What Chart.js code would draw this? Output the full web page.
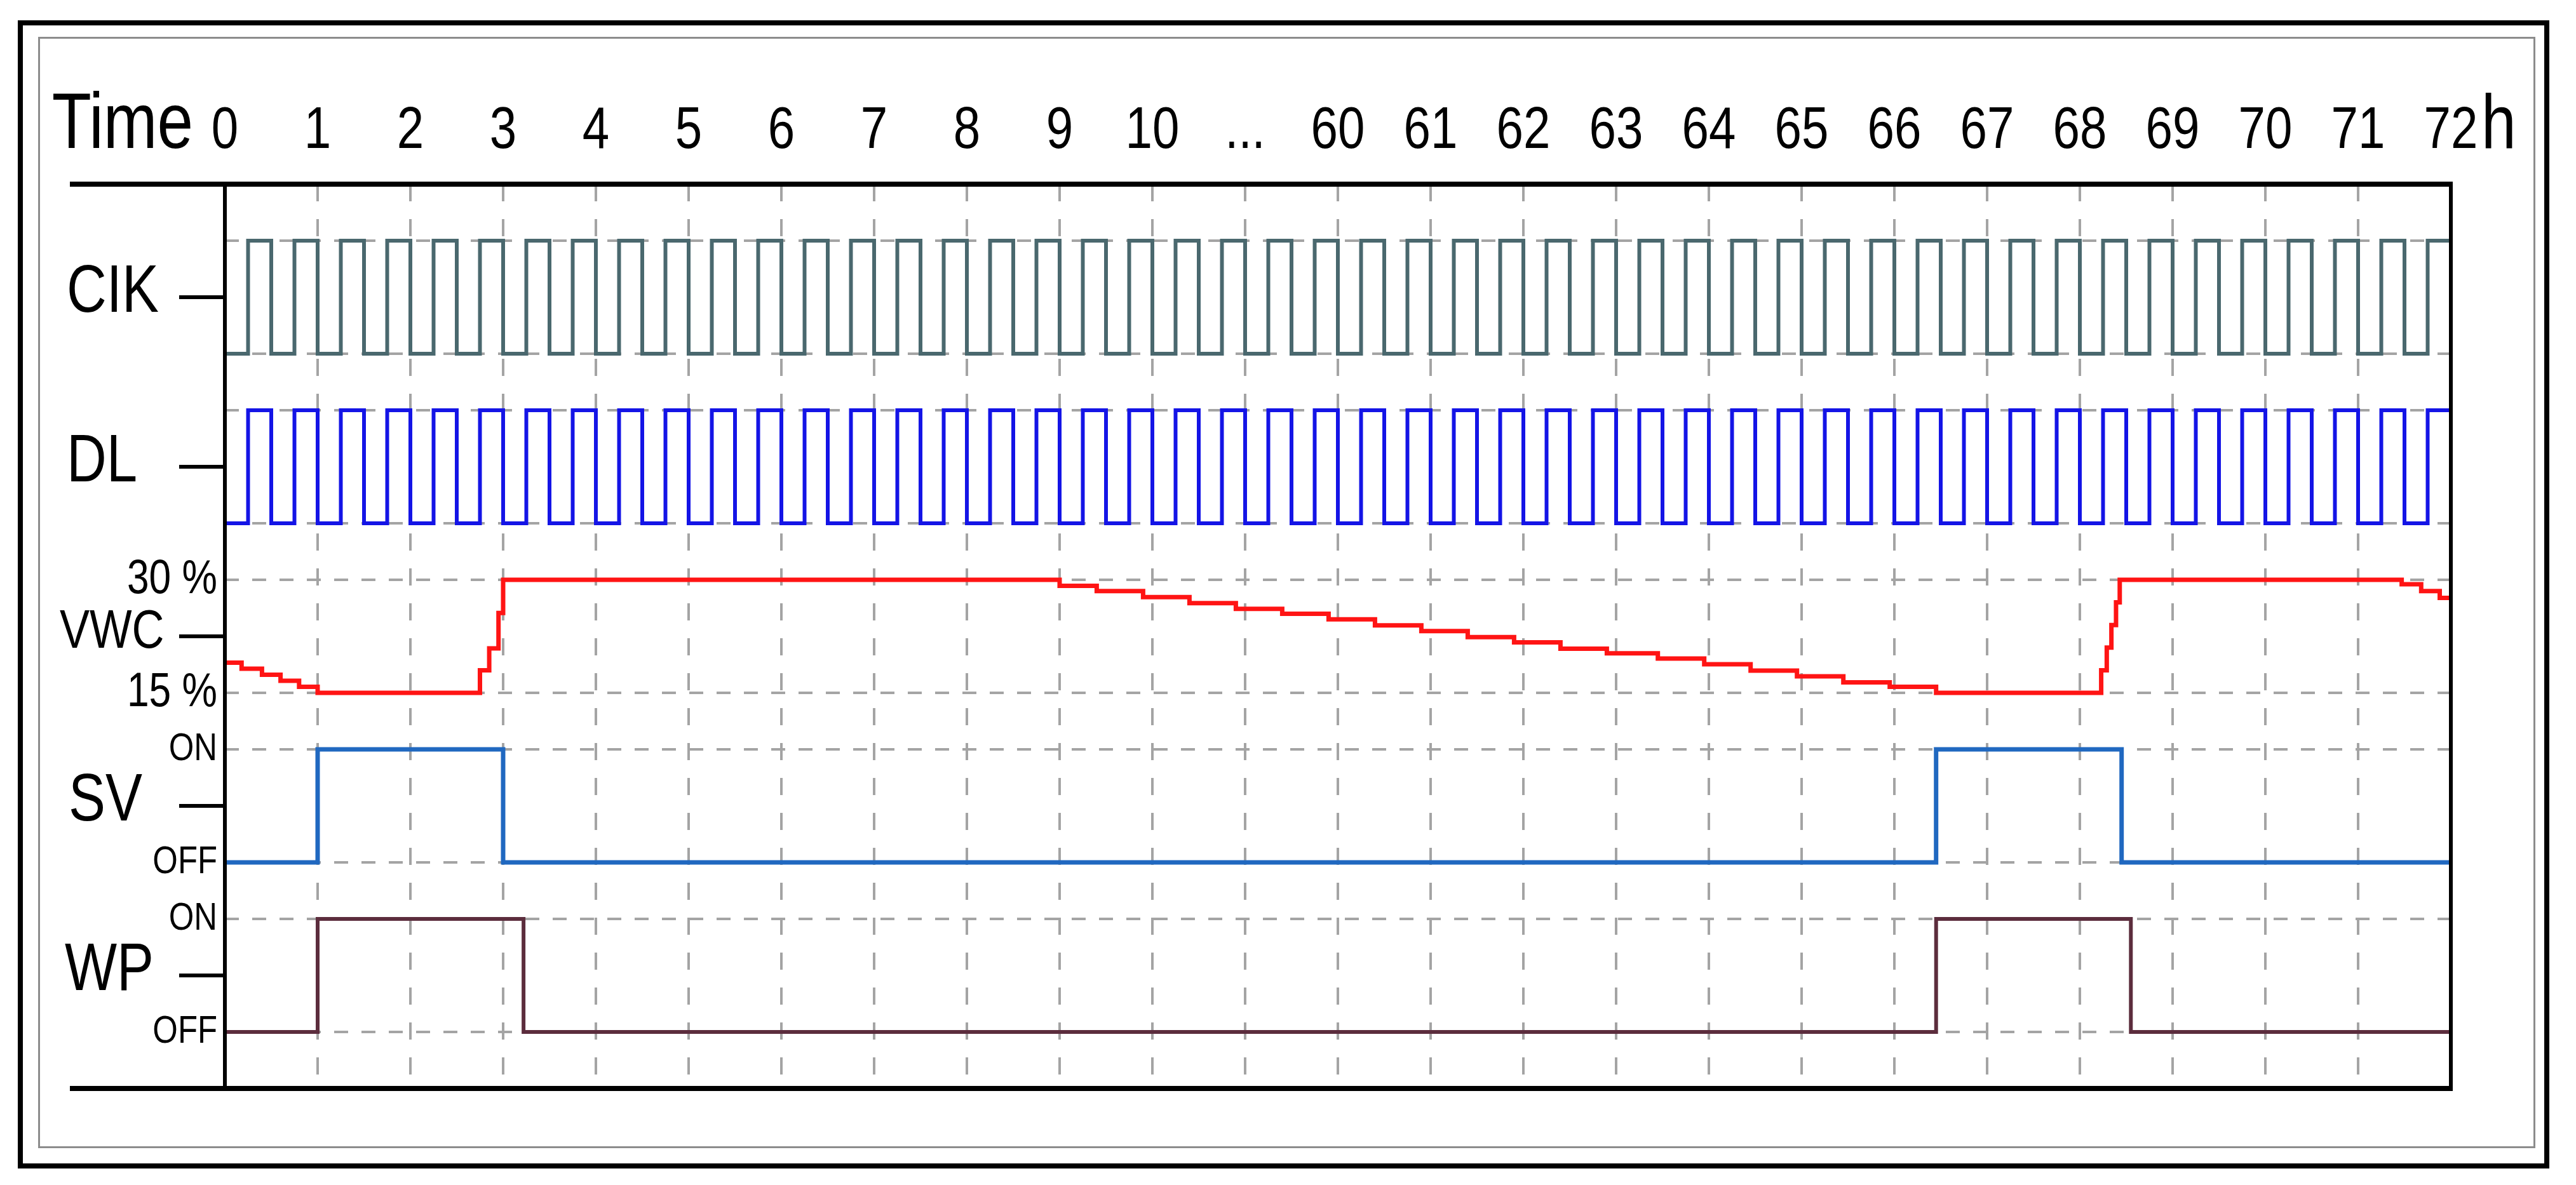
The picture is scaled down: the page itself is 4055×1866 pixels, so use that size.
<!DOCTYPE html>
<html>
<head>
<meta charset="utf-8">
<script src="https://cdn.jsdelivr.net/npm/chart.js@4.4.1/dist/chart.umd.min.js"></script>
<style>
  html, body { margin: 0; padding: 0; background: #fff; }
  body { width: 4055px; height: 1866px; overflow: hidden; position: relative; }
  .frame-outer { position: absolute; left: 28px; top: 32px; width: 3985px; height: 1808px; box-sizing: border-box; border: 8px solid #000; }
  .frame-inner { position: absolute; left: 60px; top: 58px; width: 3931px; height: 1750px; box-sizing: border-box; border: 3px solid #8c8c8c; }
  #timing { position: absolute; left: 0; top: 0; }
</style>
</head>
<body>
<div class="frame-outer"></div>
<div class="frame-inner"></div>
<canvas id="timing" width="4055" height="1866"></canvas>
<script>
// time axis: 25 slots, the axis jumps from 10 h to 60 h at "..."
const slotLabels = ['0', '1', '2', '3', '4', '5', '6', '7', '8', '9', '10', '...',
  '60', '61', '62', '63', '64', '65', '66', '67', '68', '69', '70', '71', '72']

// clock and data-logger levels, one value per quarter slot
const quarterStep = 0.25
const clkLevels = [
  0, 1, 0, 1, 0, 1, 0, 1, 0, 1, 0, 1, 0, 1, 0, 1,
  0, 1, 0, 1, 0, 1, 0, 1, 0, 1, 0, 1, 0, 1, 0, 1,
  0, 1, 0, 1, 0, 1, 0, 1, 0, 1, 0, 1, 0, 1, 0, 1,
  0, 1, 0, 1, 0, 1, 0, 1, 0, 1, 0, 1, 0, 1, 0, 1,
  0, 1, 0, 1, 0, 1, 0, 1, 0, 1, 0, 1, 0, 1, 0, 1,
  0, 1, 0, 1, 0, 1, 0, 1, 0, 1, 0, 1, 0, 1, 0, 1
]
const dlLevels = [
  0, 1, 0, 1, 0, 1, 0, 1, 0, 1, 0, 1, 0, 1, 0, 1,
  0, 1, 0, 1, 0, 1, 0, 1, 0, 1, 0, 1, 0, 1, 0, 1,
  0, 1, 0, 1, 0, 1, 0, 1, 0, 1, 0, 1, 0, 1, 0, 1,
  0, 1, 0, 1, 0, 1, 0, 1, 0, 1, 0, 1, 0, 1, 0, 1,
  0, 1, 0, 1, 0, 1, 0, 1, 0, 1, 0, 1, 0, 1, 0, 1,
  0, 1, 0, 1, 0, 1, 0, 1, 0, 1, 0, 1, 0, 1, 0, 1
]

// volumetric water content (%), value holds from each time until the next
const vwcTimes = [
  0, 0.18, 0.40, 0.60, 0.80, 1.00, 2.75, 2.85, 2.95, 3.00,
  9.00, 9.40, 9.90, 10.40, 10.90, 11.40, 11.90, 12.40, 12.90, 13.40,
  13.90, 14.40, 14.90, 15.45, 15.95, 16.45, 16.95, 17.45, 17.95, 18.45,
  20.23, 20.29, 20.34, 20.39, 20.43, 23.47, 23.68, 23.88, 24.00
]
const vwcPercent = [
  19.0, 18.2, 17.4, 16.6, 15.8, 15.0, 18.0, 20.9, 25.6, 30.0,
  29.2, 28.5, 27.7, 26.9, 26.15, 25.5, 24.75, 23.95, 23.2, 22.4,
  21.7, 20.85, 20.25, 19.55, 18.8, 17.95, 17.2, 16.4, 15.8, 15.0,
  18.0, 21.0, 24.0, 27.0, 30.0, 29.4, 28.5, 27.6, 27.6
]

// solenoid valve and water pump (0 = OFF, 1 = ON)
const svTimes = [0, 1.00, 3.00, 18.45, 20.45, 24]
const svStates = [0, 1, 0, 1, 0, 0]
const wpTimes = [0, 1.00, 3.22, 18.45, 20.55, 24]
const wpStates = [0, 1, 0, 1, 0, 0]

const rowNames = ['CIK', 'DL', 'VWC', 'SV', 'WP']
const switchTicks = [0, 1]
const switchNames = ['OFF', 'ON']
const vwcTicks = [15, 30]

// Arial Narrow look: Liberation Sans squeezed horizontally
const fontFamily = "'Liberation Sans', Arial, sans-serif"
const narrow = 0.82
const gridColor = '#a4a4a4'

function levelPoints(levels) {
  const pts = levels.map((v, i) => ({x: i * quarterStep, y: v}))
  pts.push({x: slotLabels.length - 1, y: levels[levels.length - 1]})
  return pts
}

function timePoints(times, values) {
  return times.map((t, i) => ({x: t, y: values[i]}))
}

function signal(label, data, axis, color, width) {
  return {
    label: label,
    data: data,
    yAxisID: axis,
    borderColor: color,
    borderWidth: width,
    stepped: true,
    pointRadius: 0,
    fill: false,
    borderJoinStyle: 'miter'
  }
}

function rowScale(weight, stackWeight, min, max, tickValues, labelFor) {
  return {
    type: 'linear',
    position: 'left',
    stack: 'rows',
    stackWeight: stackWeight,
    weight: weight,
    min: min,
    max: max,
    afterBuildTicks: (scale) => { scale.ticks = tickValues.map(v => ({value: v})) },
    afterFit: (scale) => { scale.width = 354 },
    ticks: {display: false, callback: labelFor},
    grid: {color: gridColor, lineWidth: 4, drawTicks: false},
    border: {display: false, dash: [22, 21]}
  }
}

const rowMarks = [
  {axis: 'yClk', name: rowNames[0], mid: 0.5, size: 106, x: 105, tickSize: 62},
  {axis: 'yDl', name: rowNames[1], mid: 0.5, size: 106, x: 105, tickSize: 62},
  {axis: 'yVwc', name: rowNames[2], mid: 22.5, size: 86, x: 94, tickSize: 76},
  {axis: 'ySv', name: rowNames[3], mid: 0.5, size: 106, x: 108, tickSize: 62},
  {axis: 'yWp', name: rowNames[4], mid: 0.5, size: 106, x: 102, tickSize: 62}
]

function narrowText(ctx, text, x, y, size, align, baseline) {
  ctx.save()
  ctx.font = size + 'px ' + fontFamily
  ctx.textAlign = align
  ctx.textBaseline = baseline
  ctx.translate(x, y)
  ctx.scale(narrow, 1)
  ctx.fillText(text, 0, 0)
  ctx.restore()
}

const timingDecor = {
  id: 'timingDecor',
  afterDraw(chart) {
    const {ctx, chartArea, scales} = chart
    const {left, right, top, bottom} = chartArea
    ctx.save()
    ctx.strokeStyle = '#000'
    ctx.fillStyle = '#000'
    ctx.lineCap = 'butt'
    ctx.lineWidth = 8
    ctx.beginPath()
    ctx.moveTo(110, top); ctx.lineTo(right + 3, top)
    ctx.moveTo(110, bottom); ctx.lineTo(right + 3, bottom)
    ctx.stroke()
    ctx.lineWidth = 6
    ctx.beginPath()
    ctx.moveTo(left, top); ctx.lineTo(left, bottom)
    ctx.moveTo(right, top); ctx.lineTo(right, bottom)
    ctx.stroke()

    // row names, their marks and the level labels of each row
    rowMarks.forEach(r => {
      const scale = scales[r.axis]
      const y = scale.getPixelForValue(r.mid)
      narrowText(ctx, r.name, r.x, y - 6, r.size, 'left', 'middle')
      ctx.beginPath()
      ctx.moveTo(left - 72, y)
      ctx.lineTo(left, y)
      ctx.stroke()
      scale.ticks.forEach(t => {
        if (t.label) narrowText(ctx, t.label, left - 12, scale.getPixelForValue(t.value), r.tickSize, 'right', 'middle')
      })
    })

    // hour labels along the top, with "Time" and "h"
    const xs = scales.x
    const base = top - 57
    xs.ticks.forEach(t => {
      narrowText(ctx, t.label, xs.getPixelForValue(t.value), base, 93, 'center', 'alphabetic')
    })
    narrowText(ctx, 'Time', xs.getPixelForValue(0) - 50, base, 124, 'right', 'alphabetic')
    narrowText(ctx, 'h', xs.getPixelForValue(slotLabels.length - 1) + 48, base, 120, 'left', 'alphabetic')
    ctx.restore()
  }
}

const timingConfig = {
  type: 'line',
  data: {
    datasets: [
      signal('CIK', levelPoints(clkLevels), 'yClk', '#4a686e', 6),
      signal('DL', levelPoints(dlLevels), 'yDl', '#1414e6', 6),
      signal('VWC', timePoints(vwcTimes, vwcPercent), 'yVwc', '#ff1414', 7),
      signal('SV', timePoints(svTimes, svStates), 'ySv', '#2068c0', 7),
      signal('WP', timePoints(wpTimes, wpStates), 'yWp', '#5c2d3d', 6)
    ]
  },
  options: {
    responsive: false,
    devicePixelRatio: 1,
    animation: false,
    layout: {padding: {left: 0, top: 0, right: 197, bottom: 152}},
    plugins: {legend: {display: false}, tooltip: {enabled: false}},
    scales: {
      x: {
        type: 'linear',
        position: 'top',
        min: 0,
        max: slotLabels.length - 1,
        afterBuildTicks: (scale) => { scale.ticks = slotLabels.map((_, i) => ({value: i})) },
        afterFit: (scale) => { scale.height = 290 },
        ticks: {display: false, autoSkip: false, callback: (v) => slotLabels[v]},
        grid: {color: gridColor, lineWidth: 4, drawTicks: false},
        border: {display: false, dash: [27, 28]}
      },
      yClk: rowScale(5, 3.5, -0.25, 1.5, switchTicks, () => ''),
      yDl: rowScale(4, 3, -0.25, 1.25, switchTicks, () => ''),
      yVwc: rowScale(3, 3, 11.25, 33.75, vwcTicks, (v) => v + ' %'),
      ySv: rowScale(2, 3, -0.25, 1.25, switchTicks, (v) => switchNames[v]),
      yWp: rowScale(1, 3.5, -0.5, 1.25, switchTicks, (v) => switchNames[v])
    }
  },
  plugins: [timingDecor]
}

const timingChart = new Chart(document.getElementById('timing').getContext('2d'), timingConfig)
</script>
</body>
</html>
